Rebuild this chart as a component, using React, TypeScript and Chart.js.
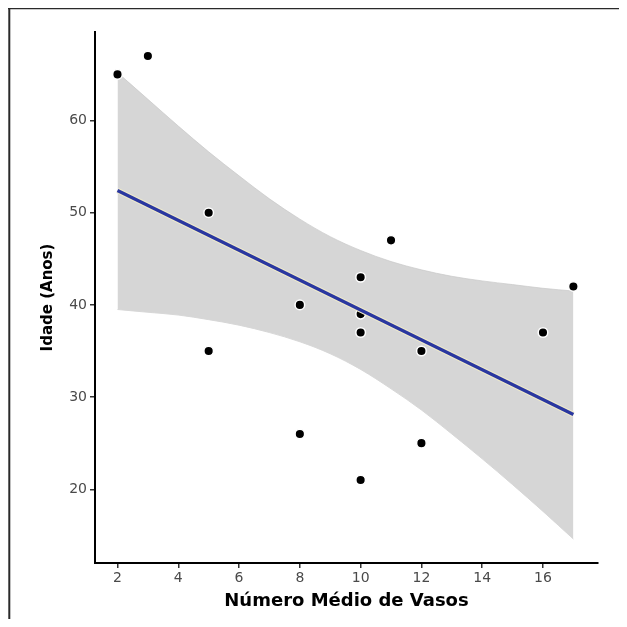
import { useEffect, useRef } from "react";
import { Chart, registerables } from "chart.js";

Chart.register(...registerables);

// Observed points
const pointX = [2, 3, 5, 5, 8, 8, 10, 10, 10, 10, 11, 12, 12, 16, 17];
const pointY = [65, 67, 50, 35, 26, 40, 43, 39, 37, 21, 47, 35, 25, 37, 42];

// Fitted line (read at both ends)
const fitX = [2, 17];
const fitY = [52.4, 28.1];

// Confidence band (read along x)
const bandX = [2, 3, 4, 5, 6, 7, 8, 9, 10, 11, 12, 13, 14, 15, 16, 17];
const bandLow = [39.5, 39.2, 38.9, 38.4, 37.8, 37.0, 36.0, 34.7, 33.0, 30.9, 28.6, 26.0, 23.3, 20.5, 17.6, 14.6];
const bandHigh = [65.2, 62.3, 59.4, 56.6, 54.0, 51.5, 49.3, 47.4, 45.9, 44.7, 43.8, 43.1, 42.6, 42.2, 41.8, 41.5];

// Axis ticks
const xTicks = [2, 4, 6, 8, 10, 12, 14, 16];
const yTicks = [20, 30, 40, 50, 60];

const xTitle = "Número Médio de Vasos";
const yTitle = "Idade (Anos)";

const W = 619;
const H = 611;

const frame = {
  id: "frame",
  beforeDraw(chart: any) {
    const ctx = chart.ctx;
    ctx.save();
    ctx.fillStyle = "#ffffff";
    ctx.fillRect(0, 0, chart.width, chart.height);
    ctx.restore();
  },
  afterDraw(chart: any) {
    const ctx = chart.ctx;
    ctx.save();
    ctx.strokeStyle = "#2a2a2a";
    ctx.lineWidth = 2;
    ctx.beginPath();
    ctx.moveTo(0, 0.3);
    ctx.lineTo(chart.width, 0.3);
    ctx.moveTo(1.3, 0);
    ctx.lineTo(1.3, chart.height);
    ctx.stroke();
    ctx.restore();
  },
};

export default function App() {
  const ref = useRef<HTMLCanvasElement | null>(null);

  useEffect(() => {
    if (!ref.current) return;
    const pts = pointX.map((x, i) => ({ x, y: pointY[i] }));
    const fit = fitX.map((x, i) => ({ x, y: fitY[i] }));
    const low = bandX.map((x, i) => ({ x, y: bandLow[i] }));
    const high = bandX.map((x, i) => ({ x, y: bandHigh[i] }));

    const chart = new Chart(ref.current, {
      type: "scatter",
      data: {
        datasets: [
          {
            type: "line",
            data: low,
            borderColor: "rgba(200,200,200,0.9)",
            borderWidth: 0.8,
            pointRadius: 0,
            fill: false,
            cubicInterpolationMode: "monotone",
            order: 5,
          } as any,
          {
            type: "line",
            data: high,
            borderColor: "rgba(200,200,200,0.9)",
            borderWidth: 0.8,
            pointRadius: 0,
            fill: "-1",
            backgroundColor: "#d6d6d6",
            cubicInterpolationMode: "monotone",
            order: 4,
          } as any,
          {
            type: "scatter",
            data: pts,
            backgroundColor: "#000000",
            borderColor: "#ffffff",
            borderWidth: 1.5,
            pointRadius: 4.8,
            order: 2,
          } as any,
          {
            type: "line",
            data: fit,
            borderColor: "#efeacb",
            borderWidth: 5.5,
            pointRadius: 0,
            fill: false,
            order: 1,
          } as any,
          {
            type: "line",
            data: fit,
            borderColor: "#2a37a0",
            borderWidth: 3.4,
            pointRadius: 0,
            fill: false,
            order: 0,
          } as any,
        ],
      },
      options: {
        responsive: false,
        animation: false,
        events: [],
        layout: { padding: { top: 24, right: 29, left: 0, bottom: 0 } },
        plugins: {
          legend: { display: false },
          tooltip: { enabled: false },
          title: { display: false },
        },
        scales: {
          x: {
            type: "linear",
            min: 1.26,
            max: 17.81,
            afterBuildTicks: (s: any) => {
              s.ticks = xTicks.map((v) => ({ value: v }));
            },
            afterFit: (s: any) => {
              s.height = 56;
            },
            grid: {
              drawOnChartArea: false,
              drawTicks: true,
              tickLength: 5,
              color: "#333333",
              lineWidth: 1.5,
            },
            border: { display: true, color: "#000000", width: 2 },
            ticks: {
              color: "#4a4a4a",
              padding: 2,
              maxRotation: 0,
              font: { family: "DejaVu Sans", size: 14 },
            },
            title: {
              display: true,
              text: xTitle,
              color: "#000000",
              font: { family: "DejaVu Sans", size: 18, weight: "bold" },
              padding: { top: 0, bottom: 7 },
            },
          },
          y: {
            type: "linear",
            min: 12.0,
            max: 69.6,
            afterBuildTicks: (s: any) => {
              s.ticks = yTicks.map((v) => ({ value: v }));
            },
            afterFit: (s: any) => {
              s.width = 87;
            },
            grid: {
              drawOnChartArea: false,
              drawTicks: true,
              tickLength: 5,
              color: "#333333",
              lineWidth: 1.5,
            },
            border: { display: true, color: "#000000", width: 2 },
            ticks: {
              color: "#4a4a4a",
              padding: 3,
              font: { family: "DejaVu Sans", size: 14 },
            },
            title: {
              display: true,
              text: yTitle,
              color: "#000000",
              font: { family: "DejaVu Sans", size: 15, weight: "bold" },
              padding: { top: 31, bottom: 0 },
            },
          },
        },
      } as any,
      plugins: [frame],
    });
    return () => chart.destroy();
  }, []);

  return (
    <div style={{ width: W, height: H }}>
      <canvas ref={ref} width={W} height={H} style={{ display: "block" }} />
    </div>
  );
}
